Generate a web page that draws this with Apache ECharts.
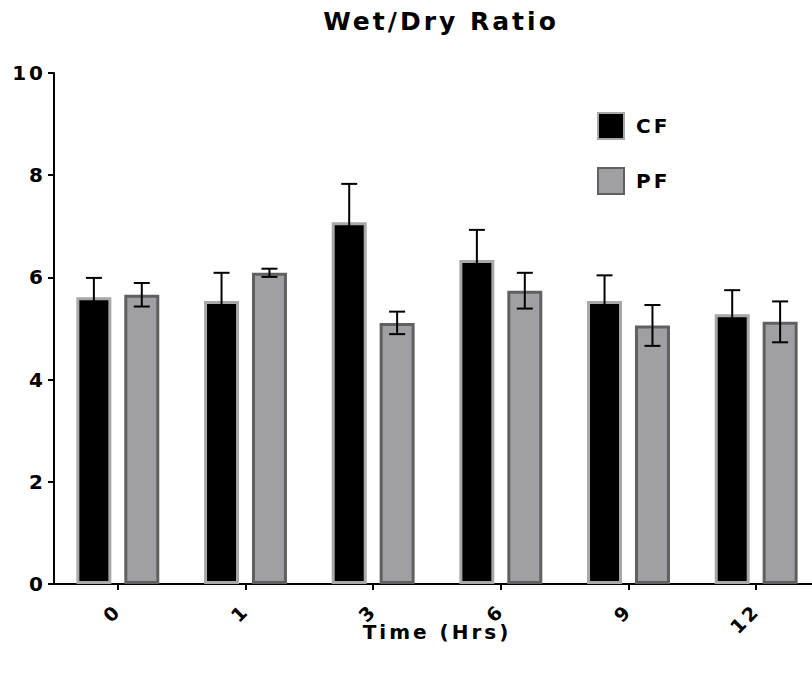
<!DOCTYPE html>
<html>
<head>
<meta charset="utf-8">
<script src="https://cdn.jsdelivr.net/npm/echarts@6/dist/echarts.min.js"></script>
<style>
  html, body { margin: 0; padding: 0; background: #fff; }
  #chart { width: 812px; height: 673px; }
  /* the original has loose tracking on every label */
  #chart svg text { letter-spacing: 3px; }
</style>
</head>
<body>
<div id="chart"></div>
<script>
// data
const categories = ['0', '1', '3', '6', '9', '12'];
const cfMean = [5.61, 5.54, 7.08, 6.34, 5.54, 5.28];
const cfErr = [0.38, 0.55, 0.75, 0.59, 0.50, 0.47];
const pfMean = [5.66, 6.09, 5.11, 5.74, 5.06, 5.13];
const pfErr = [0.23, 0.08, 0.22, 0.35, 0.40, 0.40];
const yTicks = [0, 2, 4, 6, 8, 10];

const font = 'DejaVu Sans, Arial, sans-serif';

// bar layout, as share of category width
const barW = 0.274;
const barGap = 0.37;
const barShift = barW * (1 + barGap) / 2;

function errorBars(means, errs, side) {
  return {
    type: 'custom',
    z: 10,
    silent: true,
    data: means.map((m, i) => [i, m, errs[i]]),
    renderItem: function (params, api) {
      const idx = api.value(0);
      const m = api.value(1);
      const e = api.value(2);
      const catW = api.size([1, 0])[0];
      const x = api.coord([idx, m])[0] + side * barShift * catW;
      const yHi = api.coord([idx, m + e])[1];
      const yLo = api.coord([idx, m - e])[1];
      const cap = 8;
      const style = { stroke: '#000', lineWidth: 2 };
      return {
        type: 'group',
        children: [
          { type: 'line', shape: { x1: x, y1: yHi, x2: x, y2: yLo }, style: style },
          { type: 'line', shape: { x1: x - cap, y1: yHi, x2: x + cap, y2: yHi }, style: style },
          { type: 'line', shape: { x1: x - cap, y1: yLo, x2: x + cap, y2: yLo }, style: style }
        ]
      };
    }
  };
}

const myChart = echarts.init(document.getElementById('chart'), null, { renderer: 'svg' });
const option = {
  animation: false,
  title: {
    text: 'Wet/Dry Ratio',
    left: 436,
    top: 4,
    textAlign: 'center',
    textStyle: { fontFamily: font, fontSize: 25, fontWeight: 'bold', color: '#000' }
  },
  legend: {
    data: ['CF', 'PF'],
    orient: 'vertical',
    left: 592,
    top: 107,
    icon: 'rect',
    itemWidth: 26,
    itemHeight: 26,
    itemGap: 27,
    textStyle: { fontFamily: font, fontSize: 20, fontWeight: 'bold', color: '#000', padding: [0, 0, 0, 7] }
  },
  grid: {
    left: 54,
    top: 73,
    bottom: 89,
    width: 766,
    containLabel: false,
    outerBoundsMode: 'none'
  },
  xAxis: {
    type: 'category',
    data: categories,
    name: 'Time (Hrs)',
    nameLocation: 'middle',
    nameGap: 38,
    nameMoveOverlap: false,
    nameTextStyle: { fontFamily: font, fontSize: 20, fontWeight: 'bold', color: '#000' },
    axisLine: { show: true, lineStyle: { color: '#000', width: 2 } },
    axisTick: { show: true, alignWithLabel: true, length: 6, lineStyle: { color: '#000', width: 2 } },
    axisLabel: { rotate: 45, margin: 23, fontFamily: font, fontSize: 19, fontWeight: 'bold', color: '#000' },
    splitLine: { show: false }
  },
  yAxis: {
    type: 'value',
    min: yTicks[0],
    max: yTicks[yTicks.length - 1],
    interval: 2,
    axisLine: { show: true, lineStyle: { color: '#000', width: 2 } },
    axisTick: { show: true, length: 6, lineStyle: { color: '#000', width: 2 } },
    axisLabel: { margin: 8, fontFamily: font, fontSize: 20, fontWeight: 'bold', color: '#000' },
    splitLine: { show: false }
  },
  series: [
    {
      name: 'CF',
      type: 'bar',
      data: cfMean,
      barWidth: (barW * 100) + '%',
      barGap: (barGap * 100) + '%',
      itemStyle: { color: '#000', borderColor: '#a8a8a8', borderWidth: 3 }
    },
    {
      name: 'PF',
      type: 'bar',
      data: pfMean,
      barWidth: (barW * 100) + '%',
      barGap: (barGap * 100) + '%',
      itemStyle: { color: '#a0a0a4', borderColor: '#606060', borderWidth: 3 }
    },
    errorBars(cfMean, cfErr, -1),
    errorBars(pfMean, pfErr, 1)
  ]
};
myChart.setOption(option);
</script>
</body>
</html>
